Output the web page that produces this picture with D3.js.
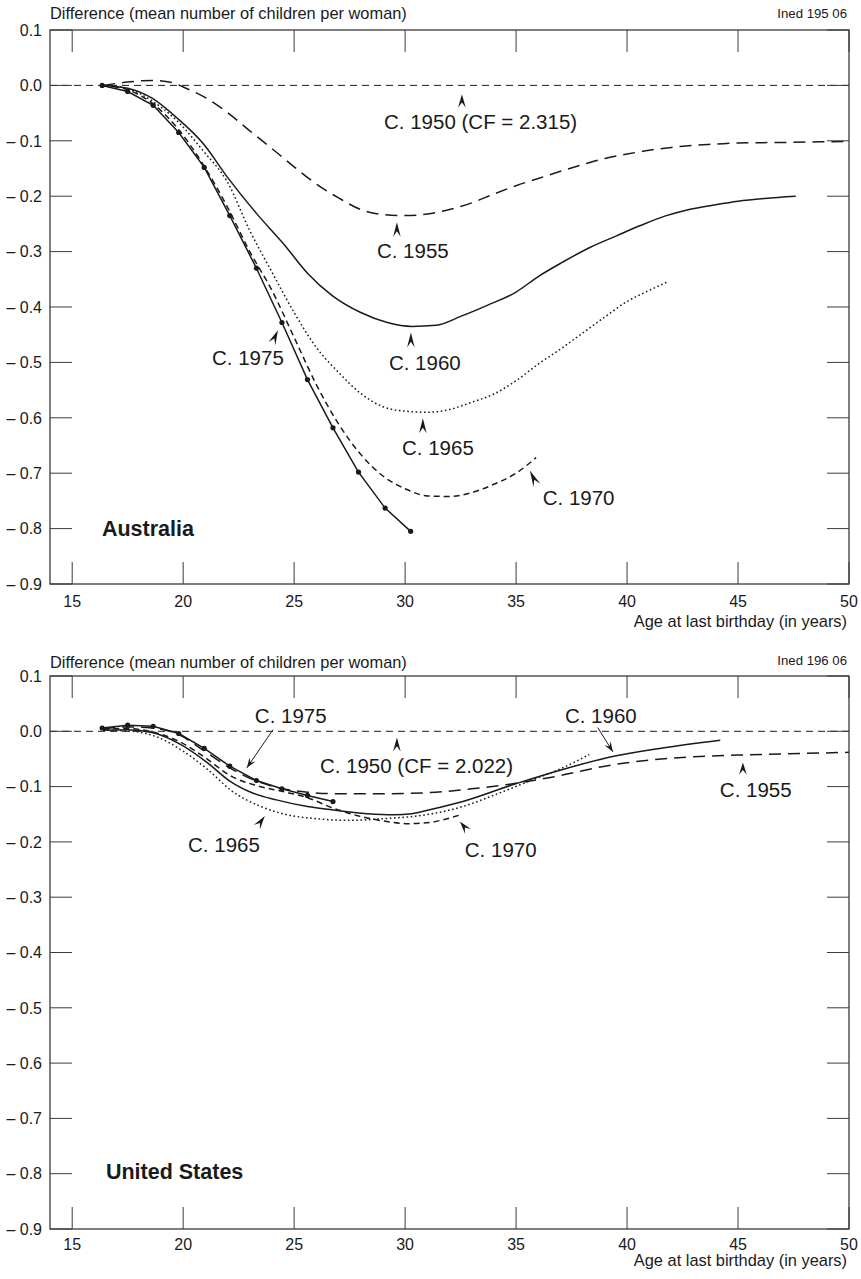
<!DOCTYPE html>
<html><head><meta charset="utf-8">
<script src="https://cdn.jsdelivr.net/npm/d3@7"></script>
<style>
body{margin:0;background:#fff}
text{font-family:"Liberation Sans",Arial,Helvetica,sans-serif;fill:#1a1a1a}
</style>
</head><body>
<svg id="chart" width="861" height="1279"></svg>
<script>
// ---------- data ----------
const xTicks = [15, 20, 25, 30, 35, 40, 45, 50];
const xTickLabels = ["15", "20", "25", "30", "35", "40", "45", "50"];
const yTicks = [0.1, 0, -0.1, -0.2, -0.3, -0.4, -0.5, -0.6, -0.7, -0.8, -0.9];
const yTickLabels = ["0.1", "0.0", "– 0.1", "– 0.2", "– 0.3", "– 0.4", "– 0.5", "– 0.6", "– 0.7", "– 0.8", "– 0.9"];
const yTitle = "Difference (mean number of children per woman)";
const xTitle = "Age at last birthday (in years)";

// Australia
const au1955 = [[16.4,0],[17.5,0.006],[18.6,0.009],[19.5,0.005],[20,-0.003],[21,-0.022],[22,-0.049],[23,-0.082],[24,-0.114],[25,-0.147],[26,-0.178],[27,-0.203],[28,-0.224],[29,-0.233],[30,-0.235],[31,-0.232],[32,-0.224],[33,-0.212],[34,-0.196],[35,-0.181],[36,-0.168],[37,-0.155],[38,-0.143],[39,-0.132],[40,-0.124],[41,-0.117],[42,-0.112],[43,-0.108],[44,-0.106],[45,-0.104],[47,-0.103],[50,-0.101]];
const au1960 = [[16.4,0],[17.5,-0.005],[18.6,-0.023],[19.7,-0.058],[20.9,-0.105],[22.0,-0.166],[23.3,-0.231],[24.5,-0.285],[25.6,-0.339],[26.7,-0.379],[28.0,-0.41],[29.2,-0.428],[30.3,-0.435],[31.4,-0.433],[32.5,-0.417],[33.7,-0.397],[35.0,-0.373],[36.0,-0.345],[37.1,-0.319],[38.3,-0.293],[39.5,-0.272],[40.6,-0.253],[41.7,-0.236],[42.8,-0.224],[43.9,-0.216],[45.0,-0.209],[46.2,-0.204],[47.6,-0.2]];
const au1965 = [[16.4,0],[17.5,-0.006],[18.6,-0.028],[19.7,-0.063],[20.9,-0.118],[22.0,-0.175],[23.0,-0.262],[24.0,-0.337],[25.0,-0.41],[26.0,-0.473],[27.0,-0.518],[28.0,-0.556],[29.0,-0.58],[30.0,-0.588],[31.0,-0.59],[32.0,-0.585],[33.0,-0.572],[34.0,-0.557],[35.0,-0.533],[36.0,-0.503],[37.0,-0.476],[38.0,-0.447],[39.0,-0.418],[40.0,-0.39],[41.0,-0.37],[41.8,-0.355]];
const au1970 = [[16.4,0],[17.5,-0.008],[18.6,-0.032],[19.8,-0.08],[20.9,-0.143],[22.0,-0.22],[23.0,-0.3],[24.0,-0.37],[25.0,-0.455],[26.0,-0.54],[27.0,-0.611],[28.0,-0.666],[29.0,-0.705],[30.0,-0.728],[31.0,-0.741],[32.0,-0.742],[33.0,-0.735],[34.0,-0.72],[35.0,-0.7],[35.9,-0.672]];
const au1975 = [[16.35,0],[17.5,-0.011],[18.65,-0.036],[19.8,-0.085],[20.95,-0.148],[22.1,-0.235],[23.3,-0.33],[24.45,-0.428],[25.6,-0.531],[26.75,-0.618],[27.9,-0.698],[29.1,-0.763],[30.25,-0.805]];

// United States
const us1955 = [[16.4,0.004],[17.5,0.008],[18.6,0.006],[19.8,-0.006],[20.9,-0.034],[22.1,-0.066],[23.3,-0.09],[24.4,-0.103],[25.6,-0.11],[27,-0.113],[29,-0.113],[31,-0.111],[33,-0.104],[35,-0.094],[37,-0.08],[39,-0.063],[41,-0.052],[43,-0.046],[45,-0.043],[47,-0.041],[50,-0.038]];
const us1960 = [[16.4,0.002],[17.5,0.003],[18.6,-0.002],[19.9,-0.024],[21.1,-0.057],[22.1,-0.09],[23.1,-0.111],[24.2,-0.124],[25.6,-0.136],[26.7,-0.142],[28.3,-0.149],[29.5,-0.151],[30.3,-0.149],[31.1,-0.142],[32.6,-0.127],[34.9,-0.096],[37.1,-0.069],[39.4,-0.045],[41.6,-0.03],[44.2,-0.016]];
const us1965 = [[16.4,0.002],[17.7,0],[18.8,-0.01],[20.0,-0.036],[21.1,-0.069],[22.2,-0.108],[23.5,-0.136],[24.7,-0.151],[26.0,-0.158],[27.5,-0.161],[29.0,-0.158],[31.1,-0.15],[32.6,-0.136],[34.1,-0.114],[35.6,-0.09],[37.1,-0.066],[38.3,-0.042]];
const us1970 = [[16.4,0.004],[17.5,0.005],[18.6,-0.001],[19.8,-0.018],[20.9,-0.045],[22.2,-0.082],[23.3,-0.098],[24.5,-0.109],[25.6,-0.12],[26.7,-0.138],[27.9,-0.153],[29.0,-0.162],[30.2,-0.167],[31.1,-0.165],[31.7,-0.16],[32.5,-0.151]];
const us1975 = [[16.35,0.006],[17.5,0.011],[18.65,0.009],[19.8,-0.004],[20.95,-0.031],[22.1,-0.063],[23.3,-0.089],[24.45,-0.104],[25.6,-0.116],[26.75,-0.127]];

// annotations, in data units: text anchor (age, value), arrow from -> to
const auNotes = [
  {t:"C. 1950 (CF = 2.315)", x:29.05, y:-0.079, from:[32.56,-0.04], to:[32.56,-0.016], shaft:false},
  {t:"C. 1955", x:28.73, y:-0.312, from:[29.63,-0.273], to:[29.63,-0.247], shaft:false},
  {t:"C. 1960", x:29.27, y:-0.513, from:[30.26,-0.473], to:[30.26,-0.446], shaft:false},
  {t:"C. 1965", x:29.86, y:-0.668, from:[30.8,-0.628], to:[30.8,-0.601], shaft:false},
  {t:"C. 1970", x:36.2, y:-0.758, from:[35.94,-0.722], to:[35.62,-0.695], shaft:false},
  {t:"C. 1975", x:21.3, y:-0.504, from:[24.0,-0.466], to:[24.27,-0.442], shaft:false}
];
const usNotes = [
  {t:"C. 1975", x:23.23, y:0.0157, from:[24.05,0.003], to:[22.87,-0.066], shaft:true},
  {t:"C. 1950 (CF = 2.022)", x:26.16, y:-0.0747, from:[29.63,-0.0367], to:[29.63,-0.0114], shaft:false},
  {t:"C. 1965", x:20.22, y:-0.2175, from:[23.32,-0.1732], to:[23.68,-0.1533], shaft:false},
  {t:"C. 1970", x:32.69, y:-0.2266, from:[32.83,-0.181], to:[32.47,-0.163], shaft:false},
  {t:"C. 1960", x:37.2, y:0.0157, from:[38.68,0.0067], to:[39.36,-0.037], shaft:true},
  {t:"C. 1955", x:44.18, y:-0.118, from:[45.22,-0.0783], to:[45.22,-0.0566], shaft:false}
];

// ---------- drawing ----------
const svg = d3.select("#chart");
const x = d3.scaleLinear().domain([14, 50]).range([50, 849]);
const INK = "#1a1a1a", FRAME = "#3a3a3a";

const panels = [
  {top:30, bottom:584, titleY:19, ined:"Ined 195 06", inedY:18, xLabY:607, xTitleY:627,
   country:"Australia", cx:16.34, cy:-0.814,
   series:[
     {d:au1955, dash:"12,7"},
     {d:au1960, dash:null},
     {d:au1965, dash:"1.6,2.6"},
     {d:au1970, dash:"6,4"},
     {d:au1975, dash:null, dots:true}
   ], notes:auNotes},
  {top:676, bottom:1229, titleY:668, ined:"Ined 196 06", inedY:665, xLabY:1250, xTitleY:1266,
   country:"United States", cx:16.52, cy:-0.81,
   series:[
     {d:us1955, dash:"12,7"},
     {d:us1960, dash:null},
     {d:us1965, dash:"1.6,2.6"},
     {d:us1970, dash:"6,4"},
     {d:us1975, dash:null, dots:true}
   ], notes:usNotes}
];

function arrowHead(g, tip, base, len, halfW) {
  const ang = Math.atan2(tip[1]-base[1], tip[0]-base[0]) * 180 / Math.PI + 90;
  g.append("path")
    .attr("d", `M0,0 L${halfW},${len} L0,${len*0.62} L${-halfW},${len} Z`)
    .attr("transform", `translate(${tip[0]},${tip[1]}) rotate(${ang})`)
    .attr("fill", INK);
}

panels.forEach(p => {
  const y = d3.scaleLinear().domain([0.1, -0.9]).range([p.top, p.bottom]);
  const g = svg.append("g");
  const L = x.range()[0], R = x.range()[1];

  // reference line C.1950 at zero
  g.append("line").attr("x1", L).attr("x2", R).attr("y1", y(0)).attr("y2", y(0))
    .attr("stroke", INK).attr("stroke-width", 1).attr("stroke-dasharray", "7,5");

  // series
  p.series.forEach(s => {
    const line = d3.line().x(d => x(d[0])).y(d => y(d[1]))
      .curve(s.dots ? d3.curveLinear : d3.curveMonotoneX);
    g.append("path").datum(s.d).attr("d", line)
      .attr("fill", "none").attr("stroke", INK).attr("stroke-width", 1.5)
      .attr("stroke-dasharray", s.dash);
    if (s.dots) {
      g.selectAll(null).data(s.d).enter().append("circle")
        .attr("cx", d => x(d[0])).attr("cy", d => y(d[1])).attr("r", 2.6).attr("fill", INK);
    }
  });

  // frame
  g.append("rect").attr("x", L).attr("y", p.top).attr("width", R - L).attr("height", p.bottom - p.top)
    .attr("fill", "none").attr("stroke", FRAME).attr("stroke-width", 1.3);

  // x ticks (inside, top and bottom)
  xTicks.forEach((t, i) => {
    g.append("line").attr("x1", x(t)).attr("x2", x(t)).attr("y1", p.top).attr("y2", p.top + 22)
      .attr("stroke", FRAME).attr("stroke-width", 1);
    g.append("line").attr("x1", x(t)).attr("x2", x(t)).attr("y1", p.bottom).attr("y2", p.bottom - 22)
      .attr("stroke", FRAME).attr("stroke-width", 1);
    g.append("text").attr("x", x(t)).attr("y", p.xLabY).attr("text-anchor", "middle")
      .attr("font-size", 16).text(xTickLabels[i]);
  });
  // y ticks (inside, left and right)
  yTicks.forEach((t, i) => {
    g.append("line").attr("x1", L).attr("x2", L + 22).attr("y1", y(t)).attr("y2", y(t))
      .attr("stroke", FRAME).attr("stroke-width", 1);
    g.append("line").attr("x1", R).attr("x2", R - 22).attr("y1", y(t)).attr("y2", y(t))
      .attr("stroke", FRAME).attr("stroke-width", 1);
    g.append("text").attr("x", 42).attr("y", y(t)).attr("dy", "0.36em").attr("text-anchor", "end")
      .attr("font-size", 16).text(yTickLabels[i]);
  });

  // titles
  g.append("text").attr("x", 50).attr("y", p.titleY).attr("font-size", 16.4).text(yTitle);
  g.append("text").attr("x", 847).attr("y", p.inedY).attr("text-anchor", "end").attr("font-size", 13.2).text(p.ined);
  g.append("text").attr("x", 847).attr("y", p.xTitleY).attr("text-anchor", "end").attr("font-size", 16.4).text(xTitle);

  // country
  g.append("text").attr("x", x(p.cx)).attr("y", y(p.cy)).attr("font-size", 21.5).attr("font-weight", "bold").text(p.country);

  // annotations
  p.notes.forEach(n => {
    g.append("text").attr("x", x(n.x)).attr("y", y(n.y)).attr("font-size", 20.5).text(n.t);
    const from = [x(n.from[0]), y(n.from[1])], to = [x(n.to[0]), y(n.to[1])];
    if (n.shaft) {
      g.append("line").attr("x1", from[0]).attr("y1", from[1]).attr("x2", to[0]).attr("y2", to[1])
        .attr("stroke", INK).attr("stroke-width", 1);
      arrowHead(g, to, from, 10, 3.6);
    } else {
      const len = Math.hypot(to[0]-from[0], to[1]-from[1]);
      arrowHead(g, to, from, len, 3.8);
    }
  });
});
</script>
</body></html>
